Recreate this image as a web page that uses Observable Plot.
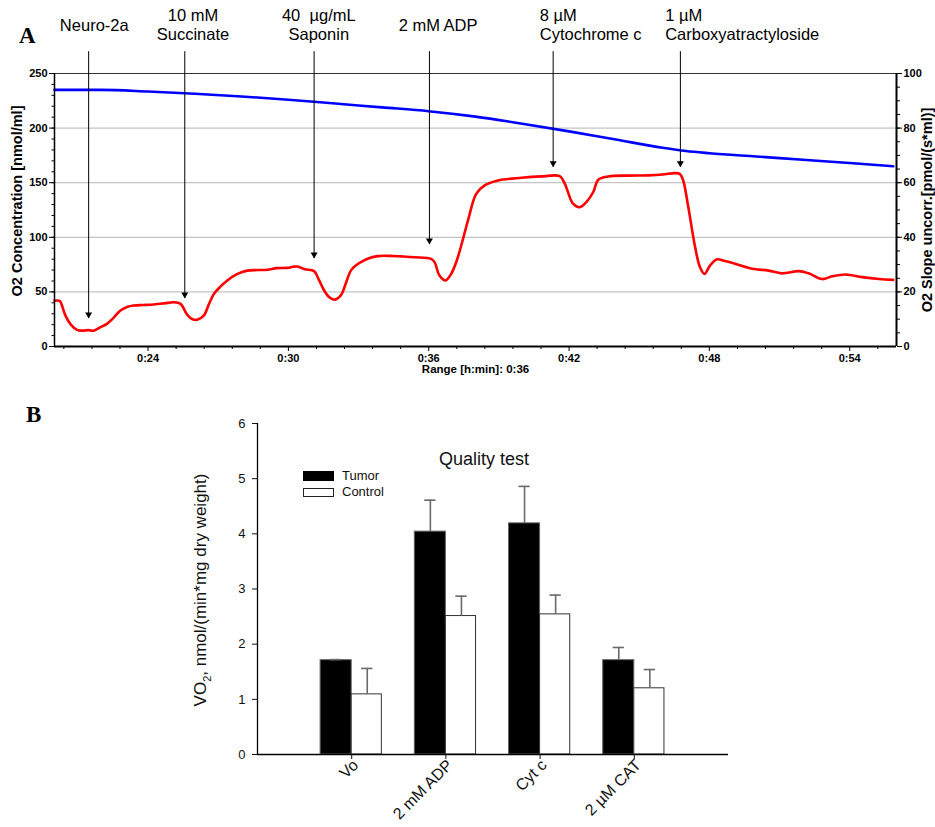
<!DOCTYPE html>
<html>
<head>
<meta charset="utf-8">
<script src="https://cdn.jsdelivr.net/npm/d3@7"></script>
<script src="https://cdn.jsdelivr.net/npm/@observablehq/plot@0.6"></script>
<style>
  html, body { margin: 0; padding: 0; background: #fff; }
  #wrap { position: relative; width: 935px; height: 827px; overflow: hidden; font-family: "Liberation Sans", Arial, sans-serif; }
  #panelA, #panelB { position: absolute; left: 0; }
  #panelA { top: 0; }
  #panelB { top: 400px; }
  .plabel { position: absolute; font-family: "Liberation Serif", "Times New Roman", serif; font-weight: bold; font-size: 23px; line-height: 23px; }
  .leg { position: absolute; font-size: 13px; line-height: 14px; color: #111; }
  .sw { position: absolute; width: 31px; height: 9px; box-sizing: border-box; }
  #ylabB { position: absolute; left: 202px; top: 590px; transform: translate(-50%, -50%) rotate(-90deg); white-space: nowrap; font-size: 17px; color: #111; }
</style>
</head>
<body>
<div id="wrap">
  <div id="panelA"></div>
  <div id="panelB"></div>
  <div class="plabel" style="left:19px; top:24px;">A</div>
  <div class="plabel" style="left:26px; top:403px;">B</div>
  <div class="sw" style="left:303px; top:471px; height:10px; background:#000;"></div>
  <div class="leg" style="left:342px; top:469px;">Tumor</div>
  <div class="sw" style="left:303px; top:488px; background:#fff; border:1px solid #222;"></div>
  <div class="leg" style="left:342px; top:485px;">Control</div>
  <div id="ylabB">VO<sub style="font-size:11px;">2</sub>, nmol/(min*mg dry weight)</div>
</div>
<script>
// ---------- Panel A data (time in minutes) ----------
const timeBlue = [20, 22, 24, 26, 28, 30, 32, 34, 36, 38, 40, 42, 44, 46, 47, 48, 50, 52, 54, 55.86];
const o2Conc   = [235, 235, 233.5, 231.5, 229, 226, 222.5, 219, 215.5, 210.5, 204, 197, 189.5, 182, 179, 177, 174, 171, 168, 165];

const timeRed = [20.0, 20.22, 20.3, 20.46, 20.7, 20.96, 21.2, 21.46, 21.67, 21.95, 22.24, 22.5, 22.82, 23.1, 23.39, 23.8, 24.24, 24.7, 25.1, 25.39,
  25.67, 25.9, 26.1, 26.39, 26.6, 26.82, 27.1, 27.39, 27.8, 28.24, 28.7, 29.1, 29.5, 29.96, 30.2, 30.39, 30.7, 31.1, 31.3, 31.53,
  31.75, 31.96, 32.24, 32.45, 32.67, 32.9, 33.1, 33.45, 33.82, 34.3, 34.82, 35.4, 36.1, 36.25, 36.46, 36.72, 36.96, 37.2, 37.39, 37.68,
  38.03, 38.39, 38.96, 39.96, 40.82, 41.6, 41.82, 42.17, 42.46, 42.74, 43.03, 43.25, 43.67, 44.53, 45.39, 46.0, 46.53, 46.74, 46.88, 47.1,
  47.39, 47.6, 47.79, 48.03, 48.31, 48.67, 49.1, 49.82, 50.53, 51.1, 51.82, 52.24, 52.82, 53.25, 53.82, 54.53, 55.25, 55.86];
const o2Slope = [16.8, 16.7, 15.5, 11.5, 8.0, 6.1, 5.8, 6.0, 5.8, 7.0, 8.3, 10.3, 13.2, 14.5, 15.0, 15.2, 15.4, 15.8, 16.2, 15.6,
  11.7, 10.0, 9.8, 11.4, 15.5, 19.3, 22.0, 24.2, 26.5, 27.8, 28.0, 28.1, 28.7, 28.8, 29.2, 29.3, 28.3, 27.6, 24.5, 20.5,
  18.0, 17.1, 18.7, 23.0, 27.8, 29.8, 30.9, 32.3, 33.1, 33.2, 33.0, 32.7, 32.1, 30.9, 26.0, 24.2, 26.6, 31.5, 37.0, 46.2,
  55.9, 59.0, 60.8, 61.8, 62.3, 62.4, 59.6, 52.3, 51.0, 52.9, 56.5, 61.1, 62.3, 62.6, 62.7, 63.0, 63.5, 63.2, 60.8, 51.0,
  36.4, 29.0, 26.6, 29.7, 31.9, 31.3, 30.3, 28.5, 27.8, 26.8, 27.6, 26.8, 24.7, 25.7, 26.4, 25.4, 24.7, 24.4];

// additions (arrows) and their labels
const eventTime  = [21.46, 25.57, 31.10, 36.03, 41.32, 46.76];
const eventTip   = [25.6, 44, 80.6, 93.4, 164.2, 164.2];   // O2 concentration units
const arrowTop   = 270;
const labelText  = ["Neuro-2a", "10 mM\nSuccinate", "40  µg/mL\nSaponin", "2 mM ADP", "8 µM\nCytochrome c", "1 µM\nCarboxyatractyloside"];
const labelTime  = [21.70, 25.92, 31.30, 36.40, 40.75, 46.11];
const labelAlign = ["middle", "middle", "middle", "middle", "start", "start"];

const xMajor = [24, 30, 36, 42, 48, 54];
const yLeftMajor = [0, 50, 100, 150, 200, 250];
const gridA = [50, 100, 150, 200];
const slopeFactor = 2.5; // right axis (0-100) vs left axis (0-250)

// ---------- Panel B data ----------
const categories = ["Vo", "2 mM ADP", "Cyt c", "2 µM CAT"];
const tumor      = [1.71, 4.04, 4.19, 1.71];
const tumorErr   = [0.01, 0.57, 0.67, 0.23];
const control    = [1.09, 2.51, 2.54, 1.20];
const controlErr = [0.47, 0.36, 0.35, 0.34];
const yTicksB    = [0, 1, 2, 3, 4, 5, 6];

// ---------- build panel A ----------
const blue = timeBlue.map((t, i) => ({t, v: o2Conc[i]}));
const red = timeRed.map((t, i) => ({t, v: o2Slope[i] * slopeFactor}));
const events = eventTime.map((t, i) => ({t, tip: eventTip[i], top: arrowTop}));
const labels = labelTime.map((t, i) => ({t, text: labelText[i], align: labelAlign[i]}));
const xMinor = d3.range(20.4, 56, 1.2).filter(v => !xMajor.some(m => Math.abs(m - v) < 0.01));
const yLeftMinor = d3.range(0, 251, 10);
const yRightMinor = d3.range(0, 251, 12.5);

const chartA = Plot.plot({
  width: 935, height: 400,
  marginTop: 73, marginBottom: 54, marginLeft: 54, marginRight: 39,
  x: {domain: [20, 56]},
  y: {domain: [0, 250]},
  style: {fontFamily: "'Liberation Sans', Arial, sans-serif", fontSize: "11px", fontWeight: "bold", background: "white", overflow: "visible", color: "#000"},
  marks: [
    Plot.ruleY(gridA, {stroke: "#c4c4c4", strokeWidth: 1.2}),
    Plot.ruleY([250], {stroke: "#333", strokeWidth: 1}),
    Plot.line(blue, {x: "t", y: "v", stroke: "#0000ff", strokeWidth: 2.6, curve: "monotone-x"}),
    Plot.line(red, {x: "t", y: "v", stroke: "#ff0000", strokeWidth: 2.6, curve: "catmull-rom"}),
    Plot.ruleX(events, {x: "t", y1: "tip", y2: "top", stroke: "#000", strokeWidth: 1}),
    Plot.dot(events, {x: "t", y: "tip", symbol: "triangle", rotate: 180, r: 2.6, fill: "#000", stroke: "none", dy: -4}),
    Plot.text(labels.filter(d => d.align === "middle"), {x: "t", text: "text", frameAnchor: "top", dy: -49, lineAnchor: "middle", lineHeight: 1.16, textAnchor: "middle", fontSize: 16.5, fontWeight: "normal"}),
    Plot.text(labels.filter(d => d.align === "start"), {x: "t", text: "text", frameAnchor: "top", dy: -49, lineAnchor: "middle", lineHeight: 1.16, textAnchor: "start", fontSize: 16.5, fontWeight: "normal"}),
    Plot.axisY(yLeftMajor, {tickSize: 5, tickPadding: 2, label: null}),
    Plot.axisY(yLeftMinor, {tickSize: 2.5, tickFormat: () => "", label: null}),
    Plot.axisY(yLeftMajor, {anchor: "right", tickSize: 5, tickPadding: 2, tickFormat: d => d / slopeFactor, label: null}),
    Plot.axisY(yRightMinor, {anchor: "right", tickSize: 3, tickFormat: () => "", label: null}),
    Plot.axisX(xMajor, {tickSize: 5, tickPadding: 3, tickFormat: d => `0:${d}`, label: null}),
    Plot.axisX(xMinor, {tickSize: 3, tickFormat: () => "", label: null}),
    Plot.ruleX([20], {stroke: "#000", strokeWidth: 1.5}),
    Plot.ruleX([56], {stroke: "#000", strokeWidth: 2}),
    Plot.ruleY([0], {stroke: "#000", strokeWidth: 2}),
    Plot.text(["Range [h:min]: 0:36"], {text: d => d, frameAnchor: "bottom", textAnchor: "middle", dy: 26, fontSize: 11.5}),
    Plot.text(["O2 Concentration [nmol/ml]"], {text: d => d, frameAnchor: "left", textAnchor: "middle", rotate: -90, dx: -37, dy: -9, fontSize: 14.5}),
    Plot.text(["O2 Slope uncorr.[pmol/(s*ml)]"], {text: d => d, frameAnchor: "right", textAnchor: "middle", rotate: -90, dx: 31, dy: 0, fontSize: 14.5})
  ]
});
document.getElementById("panelA").appendChild(chartA);

// ---------- build panel B ----------
const barW = 0.33;
const rows = categories.map((c, i) => ({
  c, pos: i + 1,
  tumor: tumor[i], tumorTop: tumor[i] + tumorErr[i],
  control: control[i], controlTop: control[i] + controlErr[i]
}));
const capHalf = 0.06;

const chartB = Plot.plot({
  width: 935, height: 427,
  marginTop: 23, marginBottom: 73, marginLeft: 257, marginRight: 207,
  x: {domain: [0, 5]},
  y: {domain: [0, 6]},
  style: {fontFamily: "'Liberation Sans', Arial, sans-serif", fontSize: "13px", background: "transparent", overflow: "visible", color: "#111"},
  marks: [
    Plot.rectY(rows, {x1: d => d.pos - barW, x2: d => d.pos, y1: 0, y2: "tumor", fill: "#000", stroke: "#666", strokeWidth: 1, inset: 0}),
    Plot.rectY(rows, {x1: d => d.pos, x2: d => d.pos + barW - 0.01, y1: 0, y2: "control", fill: "#fff", stroke: "#333", strokeWidth: 1, inset: 0}),
    Plot.ruleX(rows, {x: d => d.pos - barW / 2, y1: "tumor", y2: "tumorTop", stroke: "#6a6a6a", strokeWidth: 1.6}),
    Plot.ruleX(rows, {x: d => d.pos + barW / 2, y1: "control", y2: "controlTop", stroke: "#6a6a6a", strokeWidth: 1.6}),
    Plot.ruleY(rows, {y: "tumorTop", x1: d => d.pos - barW / 2 - capHalf, x2: d => d.pos - barW / 2 + capHalf, stroke: "#6a6a6a", strokeWidth: 1.6}),
    Plot.ruleY(rows, {y: "controlTop", x1: d => d.pos + barW / 2 - capHalf, x2: d => d.pos + barW / 2 + capHalf, stroke: "#6a6a6a", strokeWidth: 1.6}),
    Plot.ruleX([0], {stroke: "#000", strokeWidth: 1.3}),
    Plot.ruleY([0], {stroke: "#000", strokeWidth: 1.3}),
    Plot.axisY(yTicksB, {tickSize: 5, tickPadding: 7, tickFormat: d => String(d), label: null}),
    Plot.axisX(rows.map(d => d.pos), {tickSize: 5, tickFormat: () => "", label: null}),
    Plot.text(rows, {x: "pos", y: 0, text: "c", rotate: -45, textAnchor: "end", lineAnchor: "middle", dx: 4, dy: 8, fontSize: 16}),
    Plot.text(["Quality test"], {text: d => d, frameAnchor: "top", textAnchor: "middle", dx: -9, dy: 29, fontSize: 18})
  ]
});
document.getElementById("panelB").appendChild(chartB);
</script>
</body>
</html>
